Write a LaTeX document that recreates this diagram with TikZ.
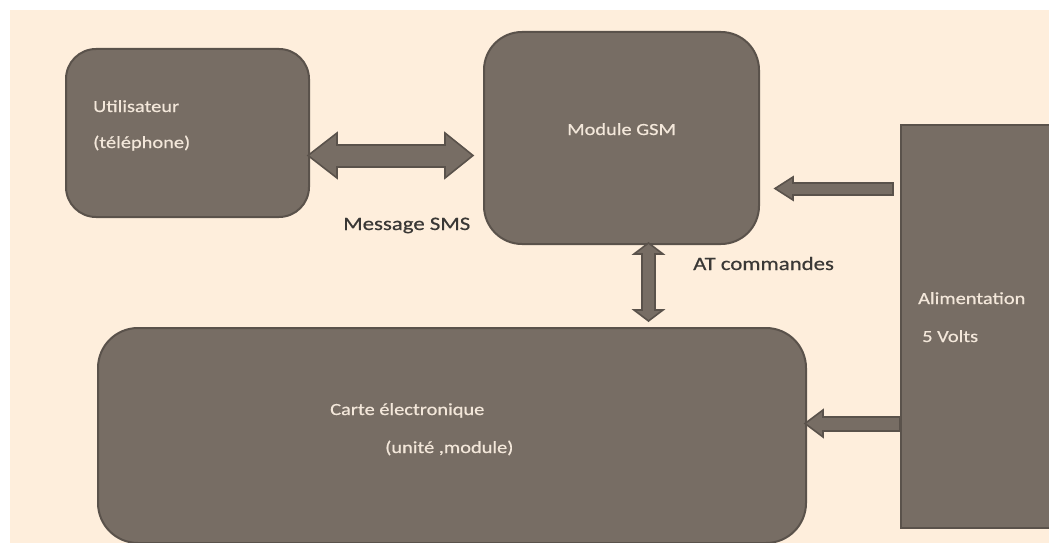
\documentclass[tikz,border=0pt]{standalone}
\usepackage{fontspec}
\setmainfont{Carlito}[FakeStretch=1.2,FakeBold=0.6]
\definecolor{bg}{HTML}{FEEEDC}
\definecolor{boxfill}{HTML}{776D64}
\definecolor{boxline}{HTML}{5A524B}
\definecolor{boxtext}{HTML}{F3E7DA}
\definecolor{labtext}{HTML}{3A3836}
\begin{document}
\begin{tikzpicture}[x=1pt,y=-1pt,
  blk/.style={fill=boxfill,draw=boxline,line width=2pt,anchor=north west,inner sep=0pt},
  barrow/.style={fill=boxfill,draw=boxline,line width=1.6pt,line join=miter},
  intext/.style={text=boxtext,font=\fontsize{17}{20}\selectfont,anchor=base west,inner sep=0pt},
  labtxt/.style={text=labtext,font=\fontsize{19}{22}\selectfont,anchor=base west,inner sep=0pt}]
\useasboundingbox (0,0) rectangle (1049,543);
\fill[white] (0,0) rectangle (1049,543);
\fill[bg] (10,10) rectangle (1049,543);
\begin{scope}
\clip (0,0) rectangle (1049,543);
% blocks
\node[blk,rounded corners=30pt,minimum width=243pt,minimum height=168pt] (user) at (65,48) {};
\node[blk,rounded corners=38pt,minimum width=275pt,minimum height=212pt] (gsm) at (483,31) {};
\node[blk,minimum width=155pt,minimum height=403pt] (alim) at (900,124) {};
\node[blk,rounded corners=40pt,minimum width=708pt,minimum height=215pt] (carte) at (97,327) {};
\end{scope}
% block arrows
\draw[barrow] (308,155.5) -- (337,133) -- (337,145) -- (445,145) -- (445,133) -- (473,155.5)
  -- (445,178) -- (445,167) -- (337,167) -- (337,178) -- cycle;
\draw[barrow] (648.5,243) -- (663,254) -- (655,254) -- (655,310) -- (663,310) -- (648.5,321)
  -- (634,310) -- (642,310) -- (642,254) -- (634,254) -- cycle;
\draw[barrow] (775,188.5) -- (793,177) -- (793,183) -- (893,183) -- (893,195) -- (793,195) -- (793,200) -- cycle;
\draw[barrow] (805,423.5) -- (823,410) -- (823,417) -- (900,417) -- (900,431) -- (823,431) -- (823,437) -- cycle;
% texts
\node[intext] (t1) at (93,112) {Utilisateur};
\node[intext] (t2) at (93,148) {(téléphone)};
\node[intext] (t3) at (567,135) {Module GSM};
\node[intext] (t4) at (918,304) {Alimentation};
\node[intext] (t5) at (922,342) {5 Volts};
\node[intext] (t6) at (330,415) {Carte électronique};
\node[intext] (t7) at (385,453) {(unité ,module)};
\node[labtxt] (l1) at (343,230) {Message SMS};
\node[labtxt] (l2) at (693,270) {AT commandes};
\end{tikzpicture}
\end{document}
